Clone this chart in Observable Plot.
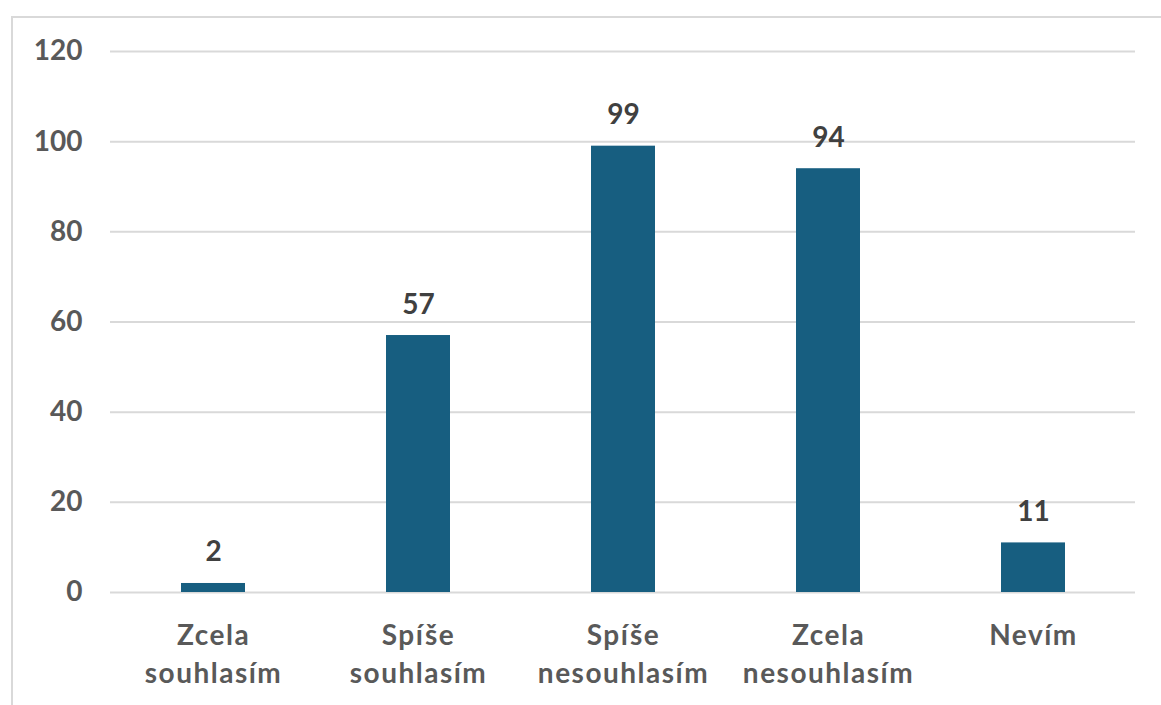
<!DOCTYPE html>
<html>
<head>
<meta charset="utf-8">
<script src="https://cdn.jsdelivr.net/npm/d3@7"></script>
<script src="https://cdn.jsdelivr.net/npm/@observablehq/plot@0.6"></script>
<style>
  html, body { margin: 0; padding: 0; background: #fff; overflow: hidden; }
  #wrap { position: relative; width: 1161px; height: 705px; }
  #border { position: absolute; left: 11px; top: 16px; width: 1200px; height: 740px; border: 2px solid #d9d9d9; box-sizing: border-box; }
  #chart { position: absolute; left: 0; top: 0; }
</style>
</head>
<body>
<div id="wrap"><div id="border"></div><div id="chart"></div></div>
<script>
const categories = ["Zcela\nsouhlasím", "Spíše\nsouhlasím", "Spíše\nnesouhlasím", "Zcela\nnesouhlasím", "Nevím"];
const values = [2, 57, 99, 94, 11];
const yTicks = [0, 20, 40, 60, 80, 100, 120];

const data = categories.map((c, i) => ({category: c, value: values[i]}));
const font = "Lato, 'Open Sans', sans-serif";

const chart = Plot.plot({
  width: 1161,
  height: 705,
  marginLeft: 110,
  marginRight: 26,
  marginTop: 51,
  marginBottom: 113,
  style: {fontFamily: font, background: "transparent"},
  x: {domain: categories, paddingInner: 0.69, paddingOuter: 0.345, label: null},
  y: {domain: [0, 120], ticks: yTicks, label: null},
  marks: [
    Plot.gridY(yTicks, {stroke: "#d9d9d9", strokeOpacity: 1, strokeWidth: 2}),
    Plot.barY(data, {x: "category", y: "value", fill: "#175e80"}),
    Plot.text(data, {x: "category", y: "value", text: d => String(d.value), lineAnchor: "bottom", dy: -22, fontSize: 28, fontWeight: "bold", fill: "#404040"}),
    Plot.axisY({ticks: yTicks, tickSize: 0, tickPadding: 28, fontSize: 28, fontWeight: "bold", color: "#595959", label: null}),
    Plot.axisX({tickSize: 0, tickPadding: 26, fontSize: 28, fontWeight: "bold", color: "#595959", lineHeight: 1.34, label: null})
  ]
});
d3.select(chart).select('g[aria-label="x-axis tick label"]').style("letter-spacing", "1.5px");
document.getElementById("chart").appendChild(chart);
</script>
</body>
</html>
